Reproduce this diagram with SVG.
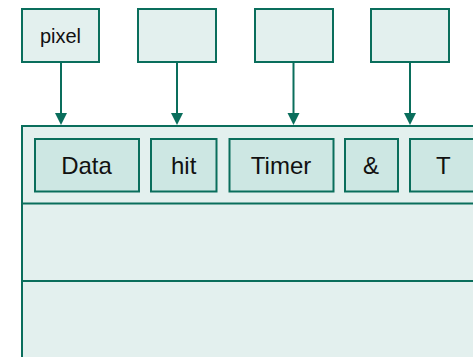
<svg xmlns="http://www.w3.org/2000/svg" width="473" height="357" viewBox="0 0 473 357">
<style>
.box{fill:#e3f0ee;stroke:#0a6e5c;stroke-width:2}
.cell{fill:#cde7e3;stroke:#0a6e5c;stroke-width:2}
.lbl{font-family:"Liberation Sans",Arial,sans-serif;fill:#111;text-anchor:middle}
.big{font-size:24px}
.conn{stroke:#0a6e5c;stroke-width:2;fill:none}
.head{fill:#0a6e5c}
</style>
<g id="container">
<rect class="box" x="22" y="126" width="460" height="240"/>
<line x1="22" y1="203.5" x2="473" y2="203.5" stroke="#0a6e5c" stroke-width="2"/>
<line x1="22" y1="281" x2="473" y2="281" stroke="#0a6e5c" stroke-width="2"/>
</g>
<g id="src1"><rect class="box" x="22" y="9" width="77" height="53"/><text class="lbl" x="60.5" y="43.3" font-size="20">pixel</text></g>
<g id="src2"><rect class="box" x="138" y="9" width="78" height="53"/></g>
<g id="src3"><rect class="box" x="255" y="9" width="78" height="53"/></g>
<g id="src4"><rect class="box" x="371" y="9" width="78" height="53"/></g>
<g id="cell-data"><rect class="cell" x="35" y="139" width="104" height="52.5"/><text class="lbl big" x="86.5" y="174">Data</text></g>
<g id="cell-hit"><rect class="cell" x="151" y="139" width="65.5" height="52.5"/><text class="lbl big" x="183.7" y="174">hit</text></g>
<g id="cell-timer"><rect class="cell" x="229.5" y="139" width="104" height="52.5"/><text class="lbl big" x="281" y="174">Timer</text></g>
<g id="cell-amp"><rect class="cell" x="345" y="139" width="53" height="52.5"/><text class="lbl big" x="371" y="174">&amp;</text></g>
<g id="cell-t"><rect class="cell" x="410" y="139" width="80" height="52.5"/><text class="lbl big" x="443.3" y="174">T</text></g>
<g id="connectors">
<path class="conn" d="M61,62 V114"/><path class="head" d="M55,113 H67 L61,125 Z"/>
<path class="conn" d="M177,62 V114"/><path class="head" d="M171,113 H183 L177,125 Z"/>
<path class="conn" d="M293.5,62 V114"/><path class="head" d="M287.5,113 H299.5 L293.5,125 Z"/>
<path class="conn" d="M410,62 V114"/><path class="head" d="M404,113 H416 L410,125 Z"/>
</g>
</svg>
